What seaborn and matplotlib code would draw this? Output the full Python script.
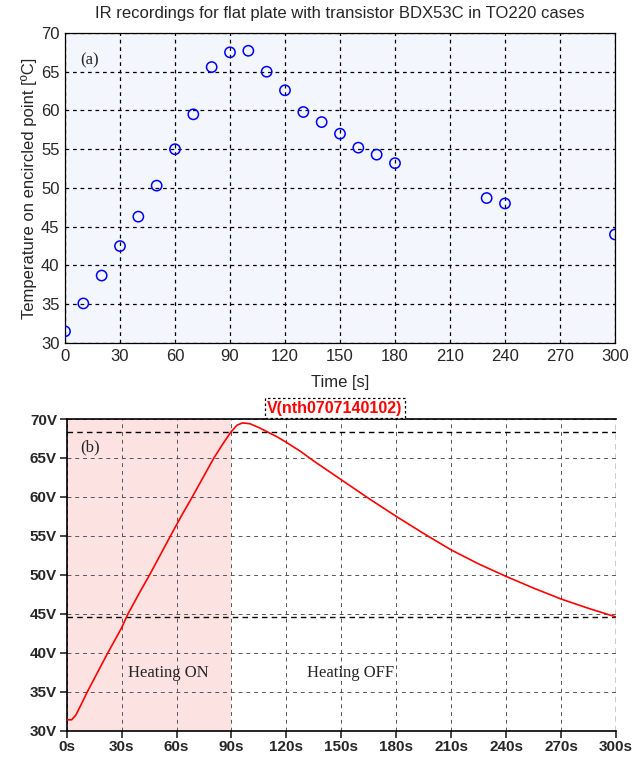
import matplotlib
matplotlib.use("Agg")
import matplotlib.pyplot as plt
import seaborn as sns
import pandas as pd

sns.set_style("white")

# IR measurements (top panel)
ir_time = [0, 10, 20, 30, 40, 50, 60, 70, 80, 90, 100, 110, 120, 130, 140,
           150, 160, 170, 180, 230, 240, 300]
ir_temp = [31.5, 35.1, 38.7, 42.5, 46.3, 50.3, 55.0, 59.5, 65.6, 67.5, 67.7,
           65.0, 62.6, 59.8, 58.5, 57.0, 55.2, 54.3, 53.2, 48.7, 48.0, 44.0]

# simulated node voltage (bottom panel)
sim_time = [0, 2.7, 5, 8, 11.3, 16, 22.5, 30, 33.5, 40, 45.3, 51, 56.7, 62.5,
            68.6, 74.5, 80.4, 85, 89.6, 93, 96, 100, 105, 110, 115, 120, 128,
            135, 150, 165, 180, 195, 210, 225, 240, 255, 270, 285, 300]
sim_volt = [31.4, 31.4, 32.0, 33.4, 35.0, 37.1, 40.0, 43.2, 45.0, 47.8, 50.0,
            52.5, 55.0, 57.5, 60.0, 62.5, 65.0, 66.7, 68.3, 69.2, 69.5, 69.4,
            68.9, 68.3, 67.7, 67.0, 65.8, 64.6, 62.2, 59.8, 57.5, 55.3, 53.2,
            51.4, 49.8, 48.3, 46.9, 45.7, 44.6]
cursor_levels = [68.3, 44.6]

ir = pd.DataFrame({"t": ir_time, "T": ir_temp})
sim = pd.DataFrame({"t": sim_time, "V": sim_volt})

fig = plt.figure(figsize=(6.41, 7.61), dpi=100)

#-------------------------#
#------ (a) IR data ------#
#-------------------------#
ax1 = fig.add_axes([0.1014, 0.5493, 0.858, 0.4074])
ax1.set_facecolor("#f3f6fd")
sns.scatterplot(data=ir, x="t", y="T", ax=ax1, marker="o", s=55,
                facecolor="none", edgecolor="#0000ff", linewidth=1.1, zorder=3)
ax1.set_xlim(0, 300)
ax1.set_ylim(30, 70)
ax1.set_xticks(range(0, 301, 30))
ax1.set_yticks(range(30, 71, 5))
ax1.grid(True, color="black", linestyle=(0, (3, 3)), linewidth=0.9)
ax1.tick_params(direction="in", length=0, labelsize=12, pad=4)
for lab in ax1.get_xticklabels() + ax1.get_yticklabels():
    lab.set_family("Liberation Sans")
for sp in ax1.spines.values():
    sp.set_color("black")
    sp.set_linewidth(0.9)
ax1.set_xlabel("Time [s]", fontsize=12, labelpad=8, family="Liberation Sans")
ax1.set_ylabel("Temperature on encircled point [ºC]", fontsize=12, labelpad=3,
               family="Liberation Sans")
ax1.set_title("IR recordings for flat plate with transistor BDX53C in TO220 cases",
              fontsize=12, pad=11, family="Liberation Sans")
ax1.text(0.027, 0.913, "(a)", transform=ax1.transAxes, fontsize=12,
         va="center", family="Liberation Serif")

#-------------------------#
#---- (b) simulation -----#
#-------------------------#
ax2 = fig.add_axes([0.104, 0.0398, 0.857, 0.4096])
ax2.axvspan(0, 90, color="#fde2e2", zorder=0, lw=0)
sns.lineplot(data=sim, x="t", y="V", ax=ax2, color="#ff0000", linewidth=1.2,
             zorder=3)
ax2.set_xlim(0, 300)
ax2.set_ylim(30, 70)
ax2.set_xticks(range(0, 301, 30))
ax2.set_xticklabels([f"{v}s" for v in range(0, 301, 30)])
ax2.set_yticks(range(30, 71, 5))
ax2.set_yticklabels([f"{v}V" for v in range(30, 71, 5)])
ax2.grid(True, color="#555555", linestyle=(0, (4, 4)), linewidth=0.7)
for lvl in cursor_levels:
    ax2.axhline(lvl, color="black", linestyle=(0, (4, 3)), linewidth=1.0, zorder=2)
ax2.axvline(300, color="black", linestyle=(0, (4, 3)), linewidth=1.0, zorder=2)
ax2.spines["right"].set_visible(False)
for side in ["left", "bottom", "top"]:
    ax2.spines[side].set_color("black")
    ax2.spines[side].set_linewidth(1.2)
ax2.tick_params(direction="out", length=5, width=1.2, labelsize=11, pad=2,
                left=True, bottom=True)
for lab in ax2.get_xticklabels() + ax2.get_yticklabels():
    lab.set_fontweight("bold")
    lab.set_family("Liberation Sans")
ax2.set_xlabel("")
ax2.set_ylabel("")
ax2.text(0.488, 1.035, "V(nth0707140102)", transform=ax2.transAxes,
         ha="center", va="center", color="#ff0000", fontsize=11.5,
         fontweight="bold", family="Liberation Sans",
         bbox=dict(boxstyle="square,pad=0.15", fc="white", ec="black",
                   ls=(0, (2, 2)), lw=0.9))
ax2.text(0.025, 0.91, "(b)", transform=ax2.transAxes, fontsize=12,
         va="center", family="Liberation Serif")
ax2.text(55.3, 37.4, "Heating ON", ha="center", va="center", fontsize=12,
         family="Liberation Serif")
ax2.text(131, 37.4, "Heating OFF", ha="left", va="center", fontsize=12,
         family="Liberation Serif")

fig.savefig("out.png", dpi=100)
